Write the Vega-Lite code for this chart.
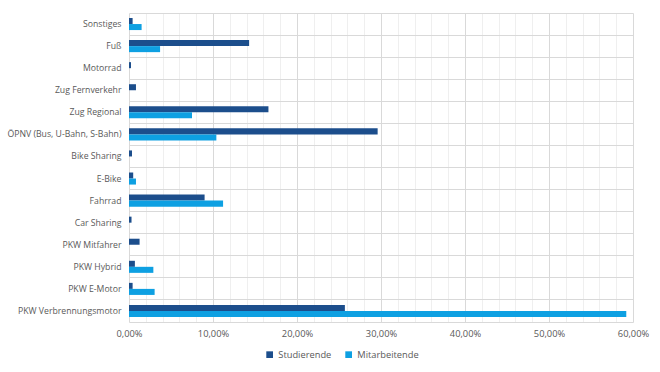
{
  "$schema": "https://vega.github.io/schema/vega-lite/v6.json",
  "width": 504,
  "height": 309,
  "autosize": "none",
  "padding": {"left": 129, "top": 13, "right": 27, "bottom": 50},
  "background": "white",
  "config": {
    "locale": {"number": {"decimal": ",", "thousands": ".", "grouping": [3], "currency": ["", " €"]}},
    "font": "Open Sans",
    "view": {"stroke": null}
  },
  "data": {
    "values": [
      {"kat": "Sonstiges", "gruppe": "Studierende", "anteil": 0.0043},
      {"kat": "Sonstiges", "gruppe": "Mitarbeitende", "anteil": 0.015},
      {"kat": "Fuß", "gruppe": "Studierende", "anteil": 0.143},
      {"kat": "Fuß", "gruppe": "Mitarbeitende", "anteil": 0.037},
      {"kat": "Motorrad", "gruppe": "Studierende", "anteil": 0.0024},
      {"kat": "Motorrad", "gruppe": "Mitarbeitende", "anteil": 0},
      {"kat": "Zug Fernverkehr", "gruppe": "Studierende", "anteil": 0.0083},
      {"kat": "Zug Fernverkehr", "gruppe": "Mitarbeitende", "anteil": 0},
      {"kat": "Zug Regional", "gruppe": "Studierende", "anteil": 0.166},
      {"kat": "Zug Regional", "gruppe": "Mitarbeitende", "anteil": 0.075},
      {"kat": "ÖPNV (Bus, U-Bahn, S-Bahn)", "gruppe": "Studierende", "anteil": 0.296},
      {"kat": "ÖPNV (Bus, U-Bahn, S-Bahn)", "gruppe": "Mitarbeitende", "anteil": 0.104},
      {"kat": "Bike Sharing", "gruppe": "Studierende", "anteil": 0.0036},
      {"kat": "Bike Sharing", "gruppe": "Mitarbeitende", "anteil": 0},
      {"kat": "E-Bike", "gruppe": "Studierende", "anteil": 0.005},
      {"kat": "E-Bike", "gruppe": "Mitarbeitende", "anteil": 0.0083},
      {"kat": "Fahrrad", "gruppe": "Studierende", "anteil": 0.09},
      {"kat": "Fahrrad", "gruppe": "Mitarbeitende", "anteil": 0.112},
      {"kat": "Car Sharing", "gruppe": "Studierende", "anteil": 0.003},
      {"kat": "Car Sharing", "gruppe": "Mitarbeitende", "anteil": 0},
      {"kat": "PKW Mitfahrer", "gruppe": "Studierende", "anteil": 0.0126},
      {"kat": "PKW Mitfahrer", "gruppe": "Mitarbeitende", "anteil": 0},
      {"kat": "PKW Hybrid", "gruppe": "Studierende", "anteil": 0.007},
      {"kat": "PKW Hybrid", "gruppe": "Mitarbeitende", "anteil": 0.029},
      {"kat": "PKW E-Motor", "gruppe": "Studierende", "anteil": 0.0043},
      {"kat": "PKW E-Motor", "gruppe": "Mitarbeitende", "anteil": 0.0305},
      {"kat": "PKW Verbrennungsmotor", "gruppe": "Studierende", "anteil": 0.257},
      {"kat": "PKW Verbrennungsmotor", "gruppe": "Mitarbeitende", "anteil": 0.592}
    ]
  },
  "mark": {"type": "bar"},
  "encoding": {
    "y": {
      "field": "kat",
      "type": "nominal",
      "sort": null,
      "scale": {"paddingInner": 0, "paddingOuter": 0},
      "axis": {
        "title": null,
        "bandPosition": 0,
        "grid": true,
        "gridColor": "#d9d9d9",
        "ticks": false,
        "domain": false,
        "labelColor": "#595959",
        "labelFontSize": 8.7,
        "labelPadding": 8,
        "labelLimit": 200
      }
    },
    "yOffset": {
      "field": "gruppe",
      "type": "nominal",
      "sort": ["Studierende", "Mitarbeitende"],
      "scale": {"paddingInner": 0, "paddingOuter": 0.83}
    },
    "x": {
      "field": "anteil",
      "type": "quantitative",
      "scale": {"domain": [0, 0.6], "nice": false},
      "axis": {
        "title": null,
        "format": ".2%",
        "values": [0, 0.02, 0.04, 0.06, 0.08, 0.1, 0.12, 0.14, 0.16, 0.18, 0.2, 0.22, 0.24, 0.26, 0.28, 0.3, 0.32, 0.34, 0.36, 0.38, 0.4, 0.42, 0.44, 0.46, 0.48, 0.5, 0.52, 0.54, 0.56, 0.58, 0.6],
        "labelExpr": "round(datum.value*50) % 5 == 0 ? datum.label : ''",
        "grid": true,
        "gridColor": {"condition": {"test": "round(datum.value*50) % 5 == 0", "value": "#d9d9d9"}, "value": "#efefef"},
        "ticks": false,
        "domain": true,
        "domainColor": "#d9d9d9",
        "labelColor": "#595959",
        "labelFontSize": 9.3,
        "labelPadding": 7,
        "labelFlush": false,
        "labelOverlap": false
      }
    },
    "color": {
      "field": "gruppe",
      "type": "nominal",
      "sort": ["Studierende", "Mitarbeitende"],
      "scale": {"domain": ["Studierende", "Mitarbeitende"], "range": ["#1c4e8c", "#0ea0e2"]},
      "legend": {
        "title": null,
        "orient": "none",
        "direction": "horizontal",
        "legendX": 136,
        "legendY": 337,
        "symbolType": "square",
        "symbolSize": 45,
        "symbolStrokeWidth": 0,
        "labelColor": "#595959",
        "labelFontSize": 9.3,
        "labelOffset": 4,
        "columnPadding": 12
      }
    }
  }
}
